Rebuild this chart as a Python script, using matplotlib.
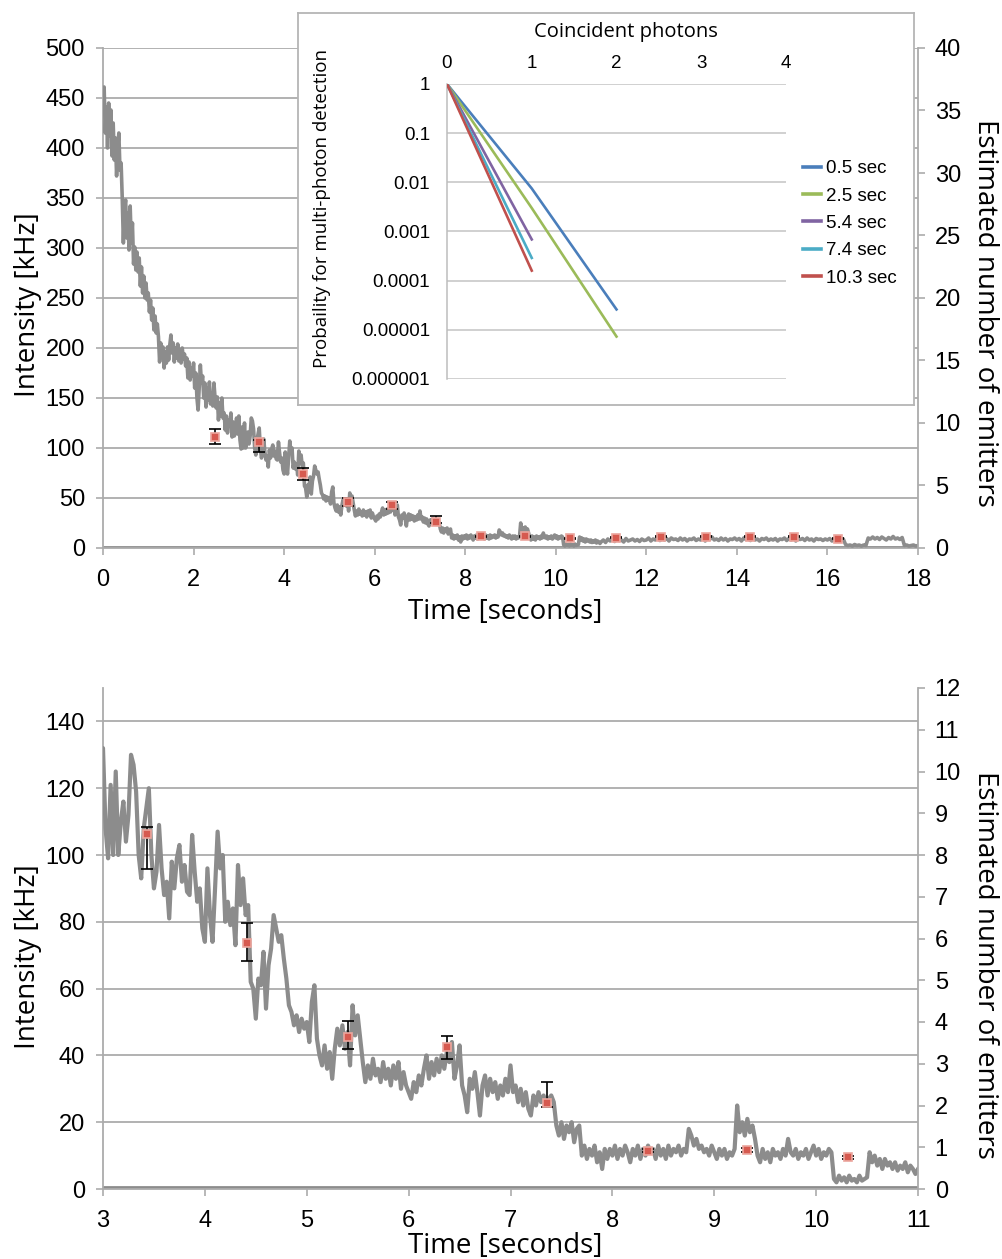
import numpy as np
import matplotlib
matplotlib.use("Agg")
import matplotlib.pyplot as plt
from matplotlib.ticker import FixedLocator, FuncFormatter, NullLocator
from matplotlib.lines import Line2D

plt.rcParams['font.family'] = ['Liberation Sans', 'DejaVu Sans']
LABEL_FONT = ['Open Sans', 'DejaVu Sans']

# ---------------------------------------------------------------- data
# Fluorescence intensity trace [kHz]
# 0 - 2.975 s, sampled every 25 ms
TRACE_A = [
    448, 461, 415, 441, 400, 445, 412, 438, 392, 425, 388, 410, 372, 400, 415, 378, 385, 350, 305, 340,
    348, 310, 335, 298, 342, 305, 325, 284, 301, 278, 296, 276, 290, 262, 281, 255, 272, 250, 265, 248,
    255, 236, 248, 228, 240, 218, 232, 215, 224, 211, 186, 205, 192, 201, 180, 196, 185, 201, 188, 203,
    213, 195, 205, 186, 200, 190, 204, 187, 198, 185, 200, 189, 194, 182, 190, 170, 186, 168, 180, 172,
    185, 160, 175, 150, 138, 160, 183, 165, 172, 150, 165, 141, 160, 148, 166, 144, 155, 142, 165, 150,
    140, 151, 128, 145, 132, 150, 130, 135, 118, 132, 115, 128, 122, 135, 111, 126, 112, 118, 130, 114,
]
# 3 - 10.975 s, sampled every 25 ms
TRACE_B = [
    132, 108, 99, 121, 100, 125, 100, 110, 116, 104, 112, 130, 127, 119, 100, 93, 108, 114, 120, 100,
    90, 95, 109, 96, 88, 92, 81, 98, 90, 99, 103, 92, 97, 89, 88, 106, 95, 86, 90, 78,
    74, 96, 82, 74, 90, 107, 96, 100, 80, 86, 79, 84, 73, 97, 85, 93, 82, 85, 62, 60,
    51, 63, 61, 71, 54, 67, 72, 82, 78, 74, 76, 69, 63, 55, 53, 49, 52, 47, 51, 48,
    50, 44, 56, 61, 45, 40, 37, 43, 36, 41, 33, 42, 48, 43, 49, 42, 47, 37, 55, 46,
    52, 45, 38, 32, 37, 33, 39, 34, 36, 32, 38, 33, 36, 31, 37, 33, 38, 30, 35, 31,
    29, 27, 32, 29, 34, 31, 36, 40, 33, 38, 34, 39, 35, 40, 36, 41, 38, 44, 33, 37,
    43, 31, 28, 23, 33, 30, 35, 29, 22, 31, 34, 28, 33, 29, 32, 27, 31, 28, 33, 29,
    37, 29, 31, 26, 30, 25, 29, 24, 22, 28, 25, 29, 26, 28, 25, 27, 28, 26, 19, 16,
    20, 15, 19, 17, 20, 14, 18, 19, 10, 13, 9, 12, 10, 13, 8, 11, 6, 12, 9, 12,
    10, 13, 9, 12, 10, 13, 11, 8, 12, 10, 13, 9, 12, 10, 13, 11, 12, 9, 13, 10,
    12, 9, 13, 10, 12, 11, 13, 10, 12, 11, 18, 16, 13, 15, 12, 13, 11, 12, 10, 13,
    11, 9, 12, 10, 12, 9, 11, 10, 12, 25, 17, 20, 16, 21, 17, 19, 15, 10, 8, 12,
    9, 11, 8, 12, 10, 11, 9, 12, 10, 15, 11, 10, 12, 9, 11, 10, 12, 9, 11, 13,
    10, 12, 9, 11, 10, 12, 11, 3, 2, 4, 2.5, 3.5, 2, 4, 2.5, 3, 2, 4, 2.5, 3,
    3.5, 11, 8, 10, 7, 9, 6, 9, 7, 8, 6, 8, 5.5, 7, 6, 8, 5, 7, 6, 4.5,
]
# 11 - 18 s, sampled every 50 ms
TRACE_C = [
    6, 8, 5.5, 9, 7, 8.5, 6.5, 9, 7.5, 8, 6, 9.5, 7, 8, 9, 7, 8.5, 6.5, 9, 7.5,
    8, 10, 7, 9, 8, 10.5, 7.5, 9, 8, 9.5, 7, 10, 8.5, 9, 7.5, 10, 8, 9.5, 7, 9,
    8.5, 10, 7.5, 9, 8, 10, 7, 9.5, 8.5, 11, 8, 9, 7.5, 10, 8, 9.5, 7, 9, 8.5, 10,
    8, 9.5, 7, 10, 8.5, 9, 7.5, 10.5, 8, 9, 7, 9.5, 8.5, 10, 7.5, 9, 8, 9.5, 7, 9,
    8.5, 10, 7.5, 9.5, 8, 10, 7, 9, 8.5, 9.5, 7.5, 10, 8, 9, 7, 9.5, 8.5, 9, 7.5, 9,
    8, 9.5, 7, 9, 8.5, 10, 7.5, 9, 3.5, 2.5, 3, 2, 3.5, 2.5, 3, 2, 3, 2.5, 10, 9,
    11, 9, 10.5, 8.5, 11, 9.5, 8, 10.5, 9, 11.5, 9, 10, 8.5, 10.5, 2.5, 3, 2, 2.5, 3, 2,
    2.5,
]
# detector background level [kHz]
BG_T = [0.0, 18.0]
BG_KHZ = [0.7, 0.7]

# emitter-count estimates from the coincidence analysis
EST_T = [2.47, 3.435, 4.41, 5.40, 6.38, 7.36, 8.345, 9.32, 10.31,
         11.33, 12.32, 13.31, 14.28, 15.27, 16.24]
EST_KHZ = [111, 106.3, 73.8, 45.6, 42.5, 25.6, 11.5, 11.7, 9.5,
           10, 11, 11, 11, 11, 9]
EST_LO = [104, 95.8, 68.3, 42.0, 39.0, 24.5, 11, 11.2, 9,
          9.5, 10.5, 10.5, 10.5, 10.5, 8.5]
EST_HI = [119, 108.3, 79.7, 50.2, 45.8, 31.9, 12, 12.2, 10,
          10.5, 11.5, 11.5, 11.5, 11.5, 9.5]

KHZ_PER_EMITTER = 12.5

# inset: probability of multi-photon detection vs coincident photons
PHOTONS = [0, 1, 2]
PROB = {
    '0.5 sec': [1, 0.0075, 2.6e-5],
    '2.5 sec': [1, 0.003, 7.3e-6],
    '5.4 sec': [1, 6.9e-4],
    '7.4 sec': [1, 2.9e-4],
    '10.3 sec': [1, 1.6e-4],
}
PROB_COLORS = ['#4A7EBB', '#9BBB59', '#8064A2', '#4BACC6', '#C0504D']
PROB_TICKS = [1, 0.1, 0.01, 0.001, 0.0001, 0.00001, 0.000001]
PROB_LABELS = ['1', '0.1', '0.01', '0.001', '0.0001', '0.00001', '0.000001']

# ---------------------------------------------------------------- arrays
trace_t = np.concatenate([
    np.arange(len(TRACE_A)) * 0.025,
    3.0 + np.arange(len(TRACE_B)) * 0.025,
    11.0 + np.arange(len(TRACE_C)) * 0.05,
])
trace_v = np.array(TRACE_A + TRACE_B + TRACE_C, dtype=float)
est_t = np.array(EST_T)
est_v = np.array(EST_KHZ)
est_lo = np.array(EST_LO)
est_hi = np.array(EST_HI)

# ---------------------------------------------------------------- figure
W, H = 1002, 1259
fig = plt.figure(figsize=(W / 100, H / 100), dpi=100)
fig.patch.set_facecolor('white')


def fx(px):
    return px / W


def fy(py):
    return 1 - py / H


GRID = '#ABABAB'
TRACE = '#8C8C8C'
TICK_FS = 17


def main_panel(top_px, bottom_px, xlim, xticks, ylim, yticks, emit_max, emit_ticks, lw):
    ax = fig.add_axes([fx(103), fy(bottom_px), (918 - 103) / W, (bottom_px - top_px) / H])
    ax.plot(BG_T, BG_KHZ, color=TRACE, lw=2.0, zorder=2)
    ax.plot(trace_t, trace_v, color=TRACE, lw=lw, zorder=3)
    m = est_t <= xlim[1]
    ax.errorbar(est_t[m], est_v[m], yerr=[est_v[m] - est_lo[m], est_hi[m] - est_v[m]],
                fmt='none', ecolor='black', elinewidth=1.2, capsize=4, capthick=1.2, zorder=4)
    ax.plot(est_t[m], est_v[m], 's', ms=6.3, mfc='#D65A50', mec='#EBA69E', mew=1.2, zorder=5)
    ax.set_xlim(*xlim)
    ax.set_ylim(*ylim)
    ax.xaxis.set_major_locator(FixedLocator(xticks))
    ax.yaxis.set_major_locator(FixedLocator(yticks))
    ax.grid(axis='y', color=GRID, lw=1.3, zorder=0)
    ax.set_axisbelow(True)
    for s in ['top', 'right']:
        ax.spines[s].set_visible(False)
    for s in ['left', 'bottom']:
        ax.spines[s].set_color(GRID)
        ax.spines[s].set_linewidth(1.3)
    ax.tick_params(axis='both', direction='out', length=5, width=1.2, color=GRID,
                   labelsize=TICK_FS)
    ax.tick_params(axis='y', pad=8)
    ax.tick_params(axis='x', pad=10)

    ax2 = ax.twinx()
    ax2.set_ylim(0, emit_max)
    ax2.yaxis.set_major_locator(FixedLocator(emit_ticks))
    for s in ['top', 'left', 'bottom']:
        ax2.spines[s].set_visible(False)
    ax2.spines['right'].set_color(GRID)
    ax2.spines['right'].set_linewidth(1.3)
    ax2.tick_params(axis='y', direction='out', length=5, width=1.2, color=GRID,
                    labelsize=TICK_FS, pad=7)
    return ax


ax_top = main_panel(48, 548, (0, 18), range(0, 19, 2), (0, 500), range(0, 501, 50),
                    500 / KHZ_PER_EMITTER, range(0, 41, 5), 2.6)
ax_bot = main_panel(688, 1189, (3, 11), range(3, 12), (0, 150), range(0, 141, 20),
                    150 / KHZ_PER_EMITTER, range(0, 13), 3.0)

LAB_FS = 20
for ycen_main, ycen_right, ycen_x in [(305, 313, 612), (957, 965, 1246)]:
    fig.text(fx(28), fy(ycen_main), 'Intensity [kHz]', rotation=90, ha='center', va='center',
             fontsize=LAB_FS, family=LABEL_FONT)
    fig.text(fx(985), fy(ycen_right), 'Estimated number of emitters', rotation=270,
             ha='center', va='center', fontsize=LAB_FS, family=LABEL_FONT)
    fig.text(fx(505), fy(ycen_x), 'Time [seconds]', ha='center', va='center',
             fontsize=LAB_FS, family=LABEL_FONT)

# ---------------------------------------------------------------- inset
box = fig.add_axes([fx(298), fy(405), (914 - 298) / W, (405 - 13) / H], zorder=5)
box.set_xticks([])
box.set_yticks([])
box.set_facecolor('white')
for s in box.spines.values():
    s.set_color('#B5B5B5')
    s.set_linewidth(1.3)

ins = fig.add_axes([fx(447), fy(379), (786 - 447) / W, (379 - 84) / H], zorder=6)
ins.set_facecolor('none')
ins.set_yscale('log')
ins.set_xlim(0, 4)
ins.set_ylim(1e-6, 1)
handles = []
for (lab, vals), c in zip(PROB.items(), PROB_COLORS):
    ins.plot(PHOTONS[:len(vals)], vals, color=c, lw=1.9, zorder=3)
    handles.append(Line2D([], [], color=c, lw=2.6, label=lab))
ins.xaxis.tick_top()
ins.xaxis.set_major_locator(FixedLocator([0, 1, 2, 3, 4]))
ins.yaxis.set_major_locator(FixedLocator(PROB_TICKS))
ins.yaxis.set_minor_locator(NullLocator())
ins.yaxis.set_major_formatter(FuncFormatter(
    lambda v, p: PROB_LABELS[int(np.argmin(np.abs(np.log10(PROB_TICKS) - np.log10(v))))]))
ins.tick_params(length=0, labelsize=13.5)
ins.tick_params(axis='y', pad=12)
ins.tick_params(axis='x', pad=8.5)
ins.grid(axis='y', color='#C4C4C4', lw=1.1, zorder=0)
for s in ['top', 'right', 'bottom']:
    ins.spines[s].set_visible(False)
ins.spines['left'].set_color('#BDBDBD')
ins.spines['left'].set_linewidth(1.1)

fig.text(fx(626), fy(32), 'Coincident photons', ha='center', va='center',
         fontsize=14.5, family=LABEL_FONT, zorder=10)
fig.text(fx(322), fy(209), 'Probaility for multi-photon detection', rotation=90,
         ha='center', va='center', fontsize=13.5, family=LABEL_FONT, zorder=10)

ins.legend(handles=handles, loc='upper left', bbox_to_anchor=(fx(803), fy(160)),
           bbox_transform=fig.transFigure, frameon=False, fontsize=13.5,
           handlelength=0.95, handletextpad=0.3, labelspacing=0.55, borderpad=0,
           borderaxespad=0)

fig.savefig('out.png', dpi=100, facecolor='white')
